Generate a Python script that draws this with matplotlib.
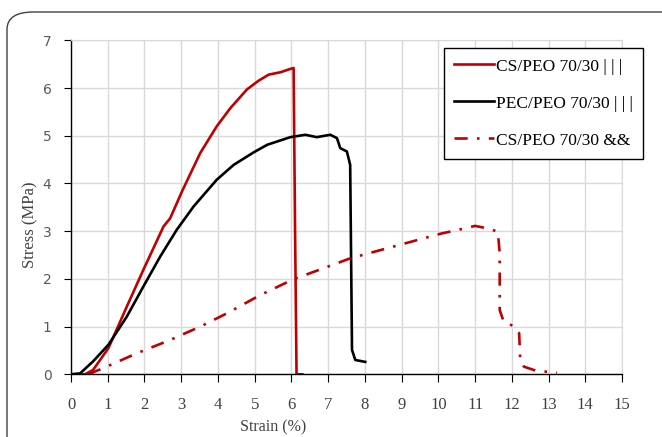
import matplotlib.pyplot as plt
from matplotlib.patches import FancyBboxPatch

# Stress-strain curves
cs_strain = [0, 0.38, 0.6, 1.02, 1.52, 1.97, 2.52, 2.7, 3.02, 3.52, 3.97, 4.34,
             4.79, 5.1, 5.38, 5.7, 5.97, 6.06, 6.1, 6.14, 6.3]
cs_stress = [0, 0, 0.09, 0.55, 1.42, 2.19, 3.1, 3.27, 3.83, 4.64, 5.2, 5.58,
             5.97, 6.15, 6.28, 6.33, 6.4, 6.42, 3.0, 0, 0]

pec_strain = [0, 0.25, 0.6, 1.02, 1.52, 1.97, 2.43, 2.88, 3.34, 3.97, 4.43, 4.97,
              5.34, 5.97, 6.38, 6.69, 7.06, 7.24, 7.33, 7.51, 7.6, 7.65, 7.74, 8.01]
pec_stress = [0, 0.02, 0.27, 0.62, 1.21, 1.84, 2.47, 3.03, 3.52, 4.08, 4.39, 4.65,
              4.81, 4.97, 5.02, 4.97, 5.02, 4.95, 4.74, 4.67, 4.39, 0.51, 0.3, 0.26]

cs2_strain = [0.47, 0.88, 1.79, 2.7, 3.52, 4.25, 5.15, 6.02, 7.6, 8.6, 10.08, 10.5,
              11.0, 11.33, 11.62, 11.67, 11.67, 11.78, 12.05, 12.2, 12.23, 12.33,
              12.64, 13.23]
cs2_stress = [0, 0.13, 0.44, 0.72, 1.0, 1.28, 1.66, 1.98, 2.43, 2.64, 2.95, 3.02,
              3.11, 3.06, 2.99, 2.54, 1.35, 1.1, 1.01, 0.86, 0.3, 0.16, 0.08, 0.03]

labels = ["CS/PEO 70/30 | | |", "PEC/PEO 70/30 | | |", "CS/PEO 70/30 &&"]
red = "#C00000"

fig = plt.figure(figsize=(6.62, 4.37), dpi=100)
ax = fig.add_axes([71 / 662, 1 - 374.3 / 437, 551 / 662, 334 / 437])

# rounded chart border, running off the right and bottom edges
border = FancyBboxPatch((7 / 662, -0.1), 1.1, 1.1 - 12 / 437,
                        boxstyle="round,pad=0,rounding_size=0.04",
                        transform=fig.transFigure, fill=False,
                        ec="#404040", lw=1.0, clip_on=False)
fig.patches.append(border)

ax.plot(cs_strain, cs_stress, color=red, lw=1.9, label=labels[0])
ax.plot(pec_strain, pec_stress, color="black", lw=1.9, label=labels[1])
ax.plot(cs2_strain, cs2_stress, color=red, lw=1.9,
        linestyle=(0, (5, 3.5, 1, 3.5)), label=labels[2])

ax.set_xlim(0, 15)
ax.set_ylim(0, 7)
ax.set_xticks(range(0, 16))
ax.set_yticks(range(0, 8))
ax.grid(True, color="#d9d9d9", lw=1.0)
ax.set_axisbelow(True)

for s in ["top", "right"]:
    ax.spines[s].set_color("#d9d9d9")
for s in ["left", "bottom"]:
    ax.spines[s].set_color("black")
    ax.spines[s].set_linewidth(1.0)

ax.tick_params(axis="x", direction="out", length=6, pad=10, labelsize=12,
               labelcolor="#404040", labelfontfamily="Liberation Serif")
ax.tick_params(axis="y", direction="out", length=5, pad=9, labelsize=10,
               labelcolor="#595959", labelfontfamily="DejaVu Sans")

ax.set_xlabel("Strain (%)", fontsize=11.5, family="Liberation Serif", color="#404040")
ax.set_ylabel("Stress (MPa)", fontsize=12, family="Liberation Serif", color="#404040")
ax.xaxis.set_label_coords(0.367, -0.135)
ax.yaxis.set_label_coords(-0.06, 0.447)

leg = ax.legend(loc="upper left", bbox_to_anchor=(0.677, 0.977),
                borderaxespad=0,
                prop={"family": "Liberation Serif", "size": 12.5},
                handlelength=2.3, handletextpad=0.1, labelspacing=1.2,
                borderpad=0.6, fancybox=False, framealpha=1)
leg.get_frame().set_edgecolor("black")
leg.get_frame().set_linewidth(1.0)

fig.savefig("out.png", dpi=100)
